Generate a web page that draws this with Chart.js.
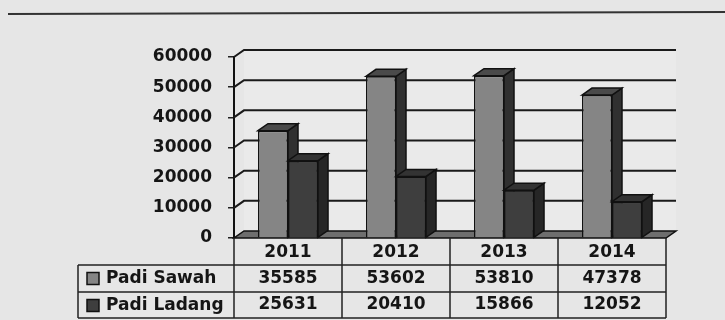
<!DOCTYPE html>
<html>
<head>
<meta charset="utf-8">
<script src="https://cdn.jsdelivr.net/npm/chart.js@4.4.0/dist/chart.umd.min.js"></script>
<style>
    html, body { margin: 0; padding: 0; background: #e6e6e6; }
    #wrap { width: 725px; height: 320px; position: relative; }
</style>
</head>
<body>
<div id="wrap"><canvas id="padiChart" width="725" height="320"></canvas></div>
<script>
// data
const years = ["2011", "2012", "2013", "2014"];
const padiSawah = [35585, 53602, 53810, 47378];
const padiLadang = [25631, 20410, 15866, 12052];
const seriesNames = ["Padi Sawah", "Padi Ladang"];
const yTicks = [0, 10000, 20000, 30000, 40000, 50000, 60000];

const FONT = "bold 17px 'DejaVu Sans', sans-serif";
const DX = 10, DY = -7;   // 3d depth offset
const ROW_H = 27;
const TABLE_LEFT = 78;

const sawahColor = "#858585";
const ladangColor = "#3e3e3e";

function poly(ctx, pts, fill, stroke) {
    ctx.beginPath();
    ctx.moveTo(pts[0][0], pts[0][1]);
    for (let i = 1; i < pts.length; i++) ctx.lineTo(pts[i][0], pts[i][1]);
    ctx.closePath();
    if (fill) { ctx.fillStyle = fill; ctx.fill(); }
    if (stroke) { ctx.strokeStyle = stroke; ctx.lineWidth = 1.5; ctx.stroke(); }
}

function drawDepth(ctx, bar, topColor, sideColor) {
    const l = bar.x - bar.width / 2, r = bar.x + bar.width / 2;
    const t = bar.y, b = bar.base;
    poly(ctx, [[r, b], [r, t], [r + DX, t + DY], [r + DX, b + DY]], sideColor, "#111");
    poly(ctx, [[l, t], [l + DX, t + DY], [r + DX, t + DY], [r, t]], topColor, "#111");
}

const wallPlugin = {
    id: "wall3d",
    beforeDatasetsDraw(chart) {
        const ctx = chart.ctx;
        const area = chart.chartArea;
        const ys = chart.scales.y;
        ctx.save();
        // back wall
        poly(ctx, [[area.left + DX, area.top + DY], [area.right + DX, area.top + DY],
                   [area.right + DX, area.bottom + DY], [area.left + DX, area.bottom + DY]], "#eaeaea", null);
        ctx.strokeStyle = "#1a1a1a";
        ctx.lineWidth = 2;
        yTicks.forEach(v => {
            if (v === 0) return;
            const y = ys.getPixelForValue(v);
            ctx.beginPath();
            ctx.moveTo(area.left, y);
            ctx.lineTo(area.left + DX, y + DY);
            ctx.lineTo(area.right + DX, y + DY);
            ctx.stroke();
        });
        // floor
        const b = area.bottom;
        poly(ctx, [[area.left, b], [area.right, b], [area.right + DX, b + DY], [area.left + DX, b + DY]], "#6e6e6e", "#111");
        ctx.restore();
    },
    afterDatasetsDraw(chart) {
        const ctx = chart.ctx;
        const area = chart.chartArea;
        const xs = chart.scales.x;
        const m0 = chart.getDatasetMeta(0);
        const m1 = chart.getDatasetMeta(1);
        ctx.save();
        for (let i = 0; i < years.length; i++) {
            drawDepth(ctx, m0.data[i], "#4a4a4a", "#303030");
            m1.data[i].draw(ctx);
            drawDepth(ctx, m1.data[i], "#333333", "#262626");
        }

        // data table
        const colW = (area.right - area.left) / years.length;
        const top = area.bottom;
        const r1 = top + ROW_H, r2 = r1 + ROW_H, r3 = r2 + ROW_H - 1;
        ctx.strokeStyle = "#222";
        ctx.lineWidth = 1.5;
        ctx.beginPath();
        [r1, r2, r3].forEach(y => { ctx.moveTo(TABLE_LEFT, y); ctx.lineTo(area.right, y); });
        ctx.moveTo(TABLE_LEFT, r1); ctx.lineTo(TABLE_LEFT, r3);
        for (let i = 0; i <= years.length; i++) {
            const x = area.left + i * colW;
            ctx.moveTo(x, top); ctx.lineTo(x, r3);
        }
        ctx.stroke();

        ctx.font = FONT;
        ctx.fillStyle = "#151515";
        ctx.textAlign = "center";
        ctx.textBaseline = "middle";
        years.forEach((yr, i) => {
            const cx = xs.getPixelForValue(i);
            ctx.fillText(yr, cx, (top + r1) / 2 + 1);
            ctx.fillText(String(padiSawah[i]), cx, (r1 + r2) / 2);
            ctx.fillText(String(padiLadang[i]), cx, (r2 + r3) / 2);
        });

        // row headers with swatches
        ctx.textAlign = "left";
        const swatch = [sawahColor, ladangColor];
        [r1, r2].forEach((y, k) => {
            const cy = y + ROW_H / 2;
            ctx.fillStyle = swatch[k];
            ctx.fillRect(TABLE_LEFT + 9, cy - 6, 12, 12);
            ctx.strokeStyle = "#111";
            ctx.lineWidth = 1.5;
            ctx.strokeRect(TABLE_LEFT + 9, cy - 6, 12, 12);
            ctx.fillStyle = "#151515";
            ctx.fillText(seriesNames[k], TABLE_LEFT + 28, cy);
        });

        // rule across the top of the page
        ctx.strokeStyle = "#333";
        ctx.lineWidth = 2;
        ctx.beginPath();
        ctx.moveTo(8, 14);
        ctx.lineTo(725, 12);
        ctx.stroke();
        ctx.restore();
    }
};

const chart = new Chart(document.getElementById("padiChart"), {
    type: "bar",
    data: {
        labels: years,
        datasets: [{
            label: seriesNames[0],
            data: padiSawah,
            backgroundColor: sawahColor,
            borderColor: "#111",
            borderWidth: 1.5
        }, {
            label: seriesNames[1],
            data: padiLadang,
            backgroundColor: ladangColor,
            borderColor: "#111",
            borderWidth: 1.5
        }]
    },
    options: {
        responsive: false,
        animation: false,
        layout: { padding: { top: 57, right: 59, bottom: 82, left: 0 } },
        datasets: { bar: { barPercentage: 1, categoryPercentage: 0.556 } },
        plugins: { legend: { display: false }, tooltip: { enabled: false } },
        scales: {
            x: { display: false },
            y: {
                min: 0,
                max: 60000,
                afterFit: (scale) => { scale.width = 234; },
                afterBuildTicks: (scale) => { scale.ticks = yTicks.map(v => ({ value: v })); },
                ticks: {
                    padding: 16,
                    color: "#151515",
                    font: { family: "'DejaVu Sans', sans-serif", size: 17, weight: "bold" },
                    callback: (v) => String(v)
                },
                grid: { drawOnChartArea: false, drawTicks: true, tickLength: 6, color: "#222", lineWidth: 1.5 },
                border: { display: true, color: "#111", width: 2 }
            }
        }
    },
    plugins: [wallPlugin]
});
</script>
</body>
</html>
